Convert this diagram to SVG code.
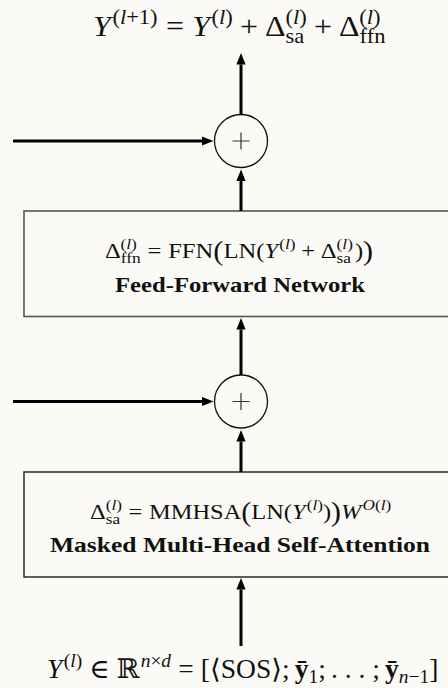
<svg xmlns="http://www.w3.org/2000/svg" width="448" height="688" viewBox="0 0 448 688">
<defs>
<style>
.m{font-family:"Liberation Serif","DejaVu Serif",serif;fill:#111}
.i{font-style:italic}
.b{font-weight:bold}
.lbl{font-family:"Liberation Serif","DejaVu Serif",serif;font-weight:bold;font-size:21px;fill:#111;text-anchor:middle}
.wire{stroke:#000;stroke-width:3;fill:none;marker-end:url(#ah)}
.sum{fill:none;stroke:#111;stroke-width:1.3}
.plus{stroke:#333;stroke-width:1.2;fill:none}
</style>
<marker id="ah" markerUnits="userSpaceOnUse" markerWidth="12" markerHeight="10" viewBox="0 -5 12 10" refX="0" refY="0" orient="auto">
<path d="M0,-4.6 L11.5,0 L0,4.6 z" fill="#000"/>
</marker>
</defs>
<rect width="448" height="688" fill="#fbfaf6"/>

<!-- output formula -->
<g id="output">
<g transform="translate(93,36) scale(1.1,1)"><text class="m" font-size="29"><tspan class="i">Y</tspan><tspan font-size="20.5" dy="-12" dx="1.5">(<tspan class="i">l</tspan>+1)</tspan><tspan dy="12" dx="7.5">=</tspan><tspan class="i" dx="7.5">Y</tspan><tspan font-size="20.5" dy="-12" dx="1.5">(<tspan class="i">l</tspan>)</tspan><tspan dy="12" dx="6.5">+</tspan><tspan dx="6.5">Δ</tspan><tspan font-size="20.5" dy="7">sa</tspan><tspan font-size="20.5" dx="-17.1" dy="-19">(<tspan class="i">l</tspan>)</tspan><tspan dy="12" dx="6.5">+</tspan><tspan dx="6.5">Δ</tspan><tspan font-size="20.5" dy="7">ffn</tspan><tspan font-size="20.5" dx="-23.9" dy="-19">(<tspan class="i">l</tspan>)</tspan></text></g>
</g>

<!-- residual adders -->
<g id="add-ffn">
<circle class="sum" cx="241" cy="141" r="26.5"/>
<path class="plus" d="M232.5,141 H249.5 M241,132.5 V149.5"/>
</g>
<g id="add-sa">
<circle class="sum" cx="241" cy="401.5" r="26.5"/>
<path class="plus" d="M232.5,401.5 H249.5 M241,393 V410"/>
</g>

<!-- feed-forward block -->
<g id="ffn">
<rect x="24" y="211" width="434" height="105.5" fill="none" stroke="#555" stroke-width="1.6"/>
<g transform="translate(105,258) scale(1.12,1)"><text class="m" font-size="22">Δ<tspan font-size="15.5" dy="5">ffn</tspan><tspan font-size="15.5" dx="-18.1" dy="-14">(<tspan class="i">l</tspan>)</tspan><tspan dy="9" dx="9.5">=</tspan><tspan dx="6">FFN</tspan><tspan font-size="27" dy="1.5">(</tspan><tspan dy="-1.5">LN(</tspan><tspan class="i">Y</tspan><tspan font-size="15.5" dy="-9" dx="1">(<tspan class="i">l</tspan>)</tspan><tspan dy="9" dx="5">+</tspan><tspan dx="5">Δ</tspan><tspan font-size="15.5" dy="5">sa</tspan><tspan font-size="15.5" dx="-12.9" dy="-14">(<tspan class="i">l</tspan>)</tspan><tspan dy="9" dx="1.7">)</tspan><tspan font-size="27" dy="1.5">)</tspan></text></g>
<text class="lbl" x="240" y="291.5" textLength="250" lengthAdjust="spacingAndGlyphs">Feed-Forward Network</text>
</g>

<!-- masked self-attention block -->
<g id="mmhsa">
<rect x="24" y="472" width="434" height="105" fill="none" stroke="#2a2a2a" stroke-width="1.5"/>
<g transform="translate(90,519) scale(1.11,1)"><text class="m" font-size="22">Δ<tspan font-size="15.5" dy="5">sa</tspan><tspan font-size="15.5" dx="-12.9" dy="-14">(<tspan class="i">l</tspan>)</tspan><tspan dy="9" dx="6">=</tspan><tspan dx="6">MMHSA</tspan><tspan font-size="27" dy="1.5">(</tspan><tspan dy="-1.5">LN(</tspan><tspan class="i">Y</tspan><tspan font-size="15.5" dy="-9" dx="1">(<tspan class="i">l</tspan>)</tspan><tspan dy="9">)</tspan><tspan font-size="27" dy="1.5">)</tspan><tspan class="i" dy="-1.5">W</tspan><tspan font-size="15.5" dy="-9" dx="1"><tspan class="i">O</tspan>(<tspan class="i">l</tspan>)</tspan></text></g>
<text class="lbl" x="240" y="552" textLength="380" lengthAdjust="spacingAndGlyphs">Masked Multi-Head Self-Attention</text>
</g>

<!-- input formula -->
<g id="input">
<g transform="translate(47,678) scale(1.02,1)"><text class="m" font-size="27"><tspan class="i">Y</tspan><tspan font-size="19" dy="-11" dx="1.5">(<tspan class="i">l</tspan>)</tspan><tspan dy="11" dx="7">∈</tspan><tspan dx="7">ℝ</tspan><tspan font-size="19" dy="-11" dx="1"><tspan class="i">n</tspan>×<tspan class="i">d</tspan></tspan><tspan dy="11" dx="7">=</tspan><tspan dx="7">[⟨SOS⟩;</tspan><tspan dx="5" class="b">ȳ</tspan><tspan font-size="19" dy="5">1</tspan><tspan dy="-5">;</tspan><tspan dx="5">. . . ;</tspan><tspan dx="5" class="b">ȳ</tspan><tspan font-size="19" dy="5"><tspan class="i">n</tspan>−1</tspan><tspan dy="-5">]</tspan></text></g>
</g>

<!-- connectors -->
<g id="connectors">
<path class="wire" d="M241,115 V64.5"/>
<path class="wire" d="M241,211 V181"/>
<path class="wire" d="M241,375 V329.5"/>
<path class="wire" d="M241,472 V441.5"/>
<path class="wire" d="M241,646 V589.5"/>
<path class="wire" d="M13,141 H202"/>
<path class="wire" d="M13,401.5 H202"/>
</g>
</svg>
